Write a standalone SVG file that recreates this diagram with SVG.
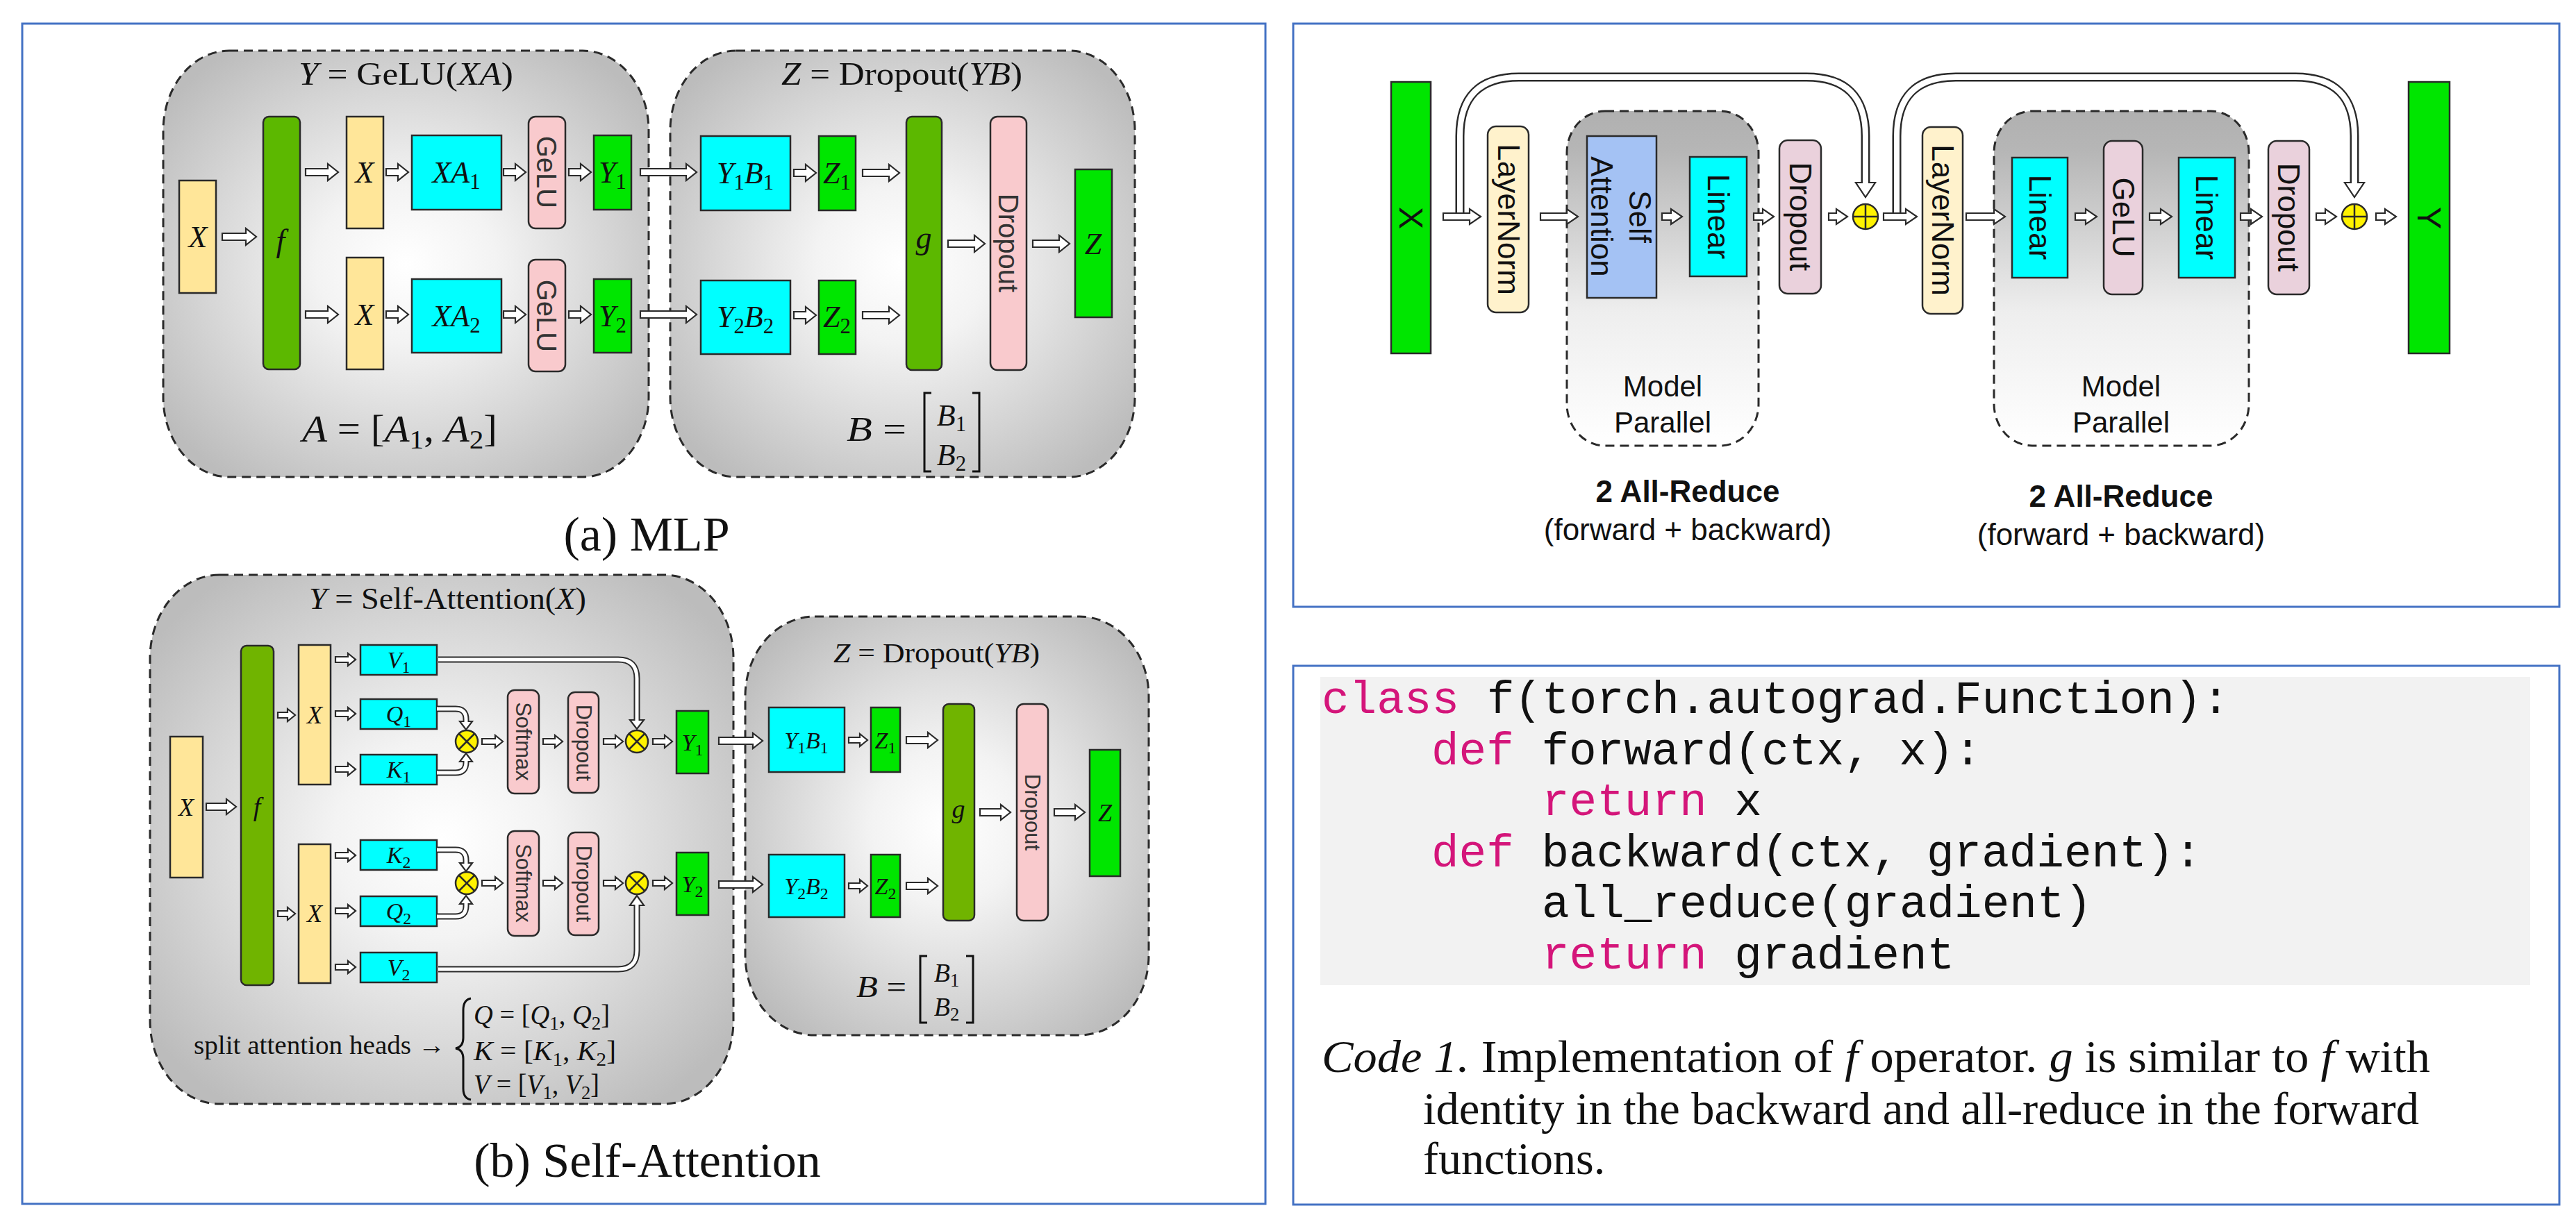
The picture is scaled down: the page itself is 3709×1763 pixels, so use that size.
<svg xmlns="http://www.w3.org/2000/svg" width="3709" height="1763" viewBox="0 0 3709 1763">
<defs>
<radialGradient id="rg" cx="0.5" cy="0.5" r="0.62">
<stop offset="0" stop-color="#ffffff"/>
<stop offset="0.3" stop-color="#f3f3f3"/>
<stop offset="1" stop-color="#bcbcbc"/>
</radialGradient>
<linearGradient id="lg" x1="0" y1="0" x2="0" y2="1">
<stop offset="0" stop-color="#b0b0b0"/>
<stop offset="0.12" stop-color="#b6b6b6"/>
<stop offset="0.6" stop-color="#eeeeee"/>
<stop offset="1" stop-color="#ffffff"/>
</linearGradient>
<style>
.panel{fill:none;stroke:#4472C4;stroke-width:3}
.ctr{stroke:#2a2a2a;stroke-width:3;stroke-dasharray:13 8}
.rg{fill:url(#rg)}
.lg{fill:url(#lg)}
.n{stroke:#2a2a2a;stroke-width:2.5}
.yel{fill:#FFE699}
.dg{fill:#5CB800}
.dg2{fill:#70B400}
.cy{fill:#00FFFF}
.gr{fill:#00E600}
.pk{fill:#F9CACD}
.ln{fill:#FFF2CC}
.mv{fill:#EAD1DC}
.bl{fill:#A4C2F4}
.op{fill:#FFF200;stroke:#2a2a2a;stroke-width:2.5}
.opl{fill:none;stroke:#2a2a2a;stroke-width:2.5}
.ar{fill:#fff;stroke:#2a2a2a;stroke-width:2.2;stroke-linejoin:miter}
.bd{fill:none;stroke:#2a2a2a;stroke-width:9}
.bw{fill:none;stroke:#fff;stroke-width:5}
.bd2{fill:none;stroke:#2a2a2a;stroke-width:13}
.bw2{fill:none;stroke:#fff;stroke-width:8}
.m{font-family:"Liberation Serif",serif;font-style:italic;fill:#111;text-anchor:middle}
.r{font-family:"Liberation Serif",serif;fill:#111}
.i{font-style:italic}
.u{font-style:normal;font-size:70%}
.sr{font-family:"Liberation Sans",sans-serif;fill:#333;text-anchor:middle;dominant-baseline:central}
.sk{font-family:"Liberation Sans",sans-serif;fill:#111;text-anchor:middle}
.code{font-family:"Liberation Mono",monospace;font-size:66px;fill:#111}
.kw{fill:#D4157A}
.cap{font-family:"Liberation Serif",serif;font-size:66px;fill:#111}
.dl{fill:none;stroke:#111;stroke-width:3}
</style>
</defs>
<rect width="3709" height="1763" fill="#fff"/>
<g id="panels">
<rect class="panel" x="32" y="34" width="1790" height="1700"/>
<rect class="panel" x="1862" y="34" width="1823" height="840"/>
<rect class="panel" x="1862" y="959" width="1823" height="776"/>
</g>

<!-- (a) MLP containers -->
<g id="mlp-gelu-block">
<rect class="ctr rg" x="235" y="73" width="699" height="614" rx="95" ry="115"/>
<text class="r" x="430" y="122" font-size="46" textLength="309" lengthAdjust="spacingAndGlyphs"><tspan class="i">Y</tspan> = GeLU(<tspan class="i">XA</tspan>)</text>
<text class="r" x="435" y="636" font-size="54" textLength="281" lengthAdjust="spacingAndGlyphs"><tspan class="i">A</tspan> = [<tspan class="i">A</tspan><tspan class="u" dy="10">1</tspan><tspan dy="-10">, </tspan><tspan class="i">A</tspan><tspan class="u" dy="10">2</tspan><tspan dy="-10">]</tspan></text>
</g>
<g id="mlp-dropout-block">
<rect class="ctr rg" x="965" y="73" width="669" height="614" rx="95" ry="115"/>
<text class="r" x="1125" y="122" font-size="46" textLength="347" lengthAdjust="spacingAndGlyphs"><tspan class="i">Z</tspan> = Dropout(<tspan class="i">YB</tspan>)</text>
<text class="r" x="1219" y="635" font-size="50" textLength="86" lengthAdjust="spacingAndGlyphs"><tspan class="i">B</tspan> =</text>
<path class="dl" d="M1341 566 H1331 V679 H1341 M1400 566 H1410 V679 H1400"/>
<text class="m" x="1370" y="613" font-size="44">B<tspan class="u" dy="8">1</tspan></text>
<text class="m" x="1370" y="670" font-size="44">B<tspan class="u" dy="8">2</tspan></text>
</g>
<text id="caption-a" class="r" x="931" y="793" font-size="70" text-anchor="middle">(a) MLP</text>

<!-- MLP nodes -->
<g id="mlp-x"><rect class="n yel" x="258" y="260" width="53" height="162"/><text class="m" x="285" y="356" font-size="44">X</text></g>
<g id="mlp-f"><rect class="n dg" x="379" y="168" width="53" height="364" rx="8"/><text class="m" x="404" y="362" font-size="46">f</text></g>
<g id="mlp-x1"><rect class="n yel" x="499" y="168" width="53" height="161"/><text class="m" x="525" y="263" font-size="44">X</text></g>
<g id="mlp-x2"><rect class="n yel" x="499" y="371" width="53" height="161"/><text class="m" x="525" y="468" font-size="44">X</text></g>
<g id="mlp-xa1"><rect class="n cy" x="593" y="195" width="129" height="107"/><text class="m" x="657" y="263" font-size="44">XA<tspan class="u" dy="9">1</tspan></text></g>
<g id="mlp-xa2"><rect class="n cy" x="593" y="402" width="129" height="106"/><text class="m" x="657" y="470" font-size="44">XA<tspan class="u" dy="9">2</tspan></text></g>
<g id="mlp-gelu1"><rect class="n pk" x="761" y="168" width="53" height="161" rx="10"/><text class="sr" font-size="40" transform="translate(787,248) rotate(90)">GeLU</text></g>
<g id="mlp-gelu2"><rect class="n pk" x="761" y="374" width="53" height="161" rx="10"/><text class="sr" font-size="40" transform="translate(787,455) rotate(90)">GeLU</text></g>
<g id="mlp-y1"><rect class="n gr" x="855" y="195" width="54" height="107"/><text class="m" x="882" y="263" font-size="44">Y<tspan class="u" dy="9">1</tspan></text></g>
<g id="mlp-y2"><rect class="n gr" x="855" y="402" width="54" height="106"/><text class="m" x="882" y="470" font-size="44">Y<tspan class="u" dy="9">2</tspan></text></g>
<g id="mlp-y1b1"><rect class="n cy" x="1009" y="196" width="129" height="107"/><text class="m" x="1073" y="264" font-size="44">Y<tspan class="u" dy="9">1</tspan><tspan dy="-9">B</tspan><tspan class="u" dy="9">1</tspan></text></g>
<g id="mlp-y2b2"><rect class="n cy" x="1009" y="404" width="129" height="106"/><text class="m" x="1073" y="471" font-size="44">Y<tspan class="u" dy="9">2</tspan><tspan dy="-9">B</tspan><tspan class="u" dy="9">2</tspan></text></g>
<g id="mlp-z1"><rect class="n gr" x="1179" y="196" width="53" height="107"/><text class="m" x="1205" y="264" font-size="44">Z<tspan class="u" dy="9">1</tspan></text></g>
<g id="mlp-z2"><rect class="n gr" x="1179" y="404" width="53" height="106"/><text class="m" x="1205" y="471" font-size="44">Z<tspan class="u" dy="9">2</tspan></text></g>
<g id="mlp-g"><rect class="n dg" x="1305" y="168" width="51" height="365" rx="8"/><text class="m" x="1330" y="358" font-size="46">g</text></g>
<g id="mlp-dropout"><rect class="n pk" x="1426" y="168" width="52" height="365" rx="10"/><text class="sr" font-size="40" transform="translate(1452,350) rotate(90)">Dropout</text></g>
<g id="mlp-z"><rect class="n gr" x="1548" y="244" width="53" height="213"/><text class="m" x="1574" y="366" font-size="44">Z</text></g>

<!-- (b) Self-attention containers -->
<g id="sa-attention-block">
<rect class="ctr rg" x="216" y="828" width="840" height="762" rx="100" ry="120"/>
<text class="r" x="445" y="877" font-size="44" textLength="399" lengthAdjust="spacingAndGlyphs"><tspan class="i">Y</tspan> = Self-Attention(<tspan class="i">X</tspan>)</text>
<text class="r" x="279" y="1518" font-size="38" textLength="362" lengthAdjust="spacingAndGlyphs">split attention heads →</text>
<path class="dl" d="M678 1438 Q667 1440 667 1455 V1495 Q667 1508 656 1510 Q667 1512 667 1525 V1568 Q667 1582 678 1584"/>
<text class="r" x="682" y="1475" font-size="40" textLength="196" lengthAdjust="spacingAndGlyphs"><tspan class="i">Q</tspan> = [<tspan class="i">Q</tspan><tspan class="u" dy="8">1</tspan><tspan dy="-8">, </tspan><tspan class="i">Q</tspan><tspan class="u" dy="8">2</tspan><tspan dy="-8">]</tspan></text>
<text class="r" x="682" y="1527" font-size="40" textLength="205" lengthAdjust="spacingAndGlyphs"><tspan class="i">K</tspan> = [<tspan class="i">K</tspan><tspan class="u" dy="8">1</tspan><tspan dy="-8">, </tspan><tspan class="i">K</tspan><tspan class="u" dy="8">2</tspan><tspan dy="-8">]</tspan></text>
<text class="r" x="682" y="1575" font-size="40" textLength="181" lengthAdjust="spacingAndGlyphs"><tspan class="i">V</tspan> = [<tspan class="i">V</tspan><tspan class="u" dy="8">1</tspan><tspan dy="-8">, </tspan><tspan class="i">V</tspan><tspan class="u" dy="8">2</tspan><tspan dy="-8">]</tspan></text>
</g>
<g id="sa-dropout-block">
<rect class="ctr rg" x="1073" y="888" width="581" height="603" rx="100" ry="115"/>
<text class="r" x="1200" y="954" font-size="40" textLength="297" lengthAdjust="spacingAndGlyphs"><tspan class="i">Z</tspan> = Dropout(<tspan class="i">YB</tspan>)</text>
<text class="r" x="1233" y="1436" font-size="44" textLength="72" lengthAdjust="spacingAndGlyphs"><tspan class="i">B</tspan> =</text>
<path class="dl" d="M1335 1377 H1325 V1473 H1335 M1391 1377 H1401 V1473 H1391"/>
<text class="m" x="1363" y="1414" font-size="38">B<tspan class="u" dy="7">1</tspan></text>
<text class="m" x="1363" y="1463" font-size="38">B<tspan class="u" dy="7">2</tspan></text>
</g>
<text id="caption-b" class="r" x="932" y="1695" font-size="70" text-anchor="middle">(b) Self-Attention</text>

<!-- SA nodes -->
<g id="sa-x"><rect class="n yel" x="245" y="1061" width="47" height="203"/><text class="m" x="268" y="1175" font-size="36">X</text></g>
<g id="sa-f"><rect class="n dg2" x="347" y="930" width="47" height="489" rx="8"/><text class="m" x="370" y="1175" font-size="38">f</text></g>
<g id="sa-x1"><rect class="n yel" x="430" y="929" width="46" height="201"/><text class="m" x="453" y="1042" font-size="36">X</text></g>
<g id="sa-x2"><rect class="n yel" x="430" y="1216" width="46" height="200"/><text class="m" x="453" y="1328" font-size="36">X</text></g>
<g id="sa-v1"><rect class="n cy" x="519" y="929" width="110" height="43"/><text class="m" x="574" y="962" font-size="34">V<tspan class="u" dy="7">1</tspan></text></g>
<g id="sa-q1"><rect class="n cy" x="519" y="1007" width="110" height="43"/><text class="m" x="574" y="1040" font-size="34">Q<tspan class="u" dy="7">1</tspan></text></g>
<g id="sa-k1"><rect class="n cy" x="519" y="1087" width="110" height="43"/><text class="m" x="574" y="1120" font-size="34">K<tspan class="u" dy="7">1</tspan></text></g>
<g id="sa-k2"><rect class="n cy" x="519" y="1210" width="110" height="43"/><text class="m" x="574" y="1243" font-size="34">K<tspan class="u" dy="7">2</tspan></text></g>
<g id="sa-q2"><rect class="n cy" x="519" y="1291" width="110" height="43"/><text class="m" x="574" y="1324" font-size="34">Q<tspan class="u" dy="7">2</tspan></text></g>
<g id="sa-v2"><rect class="n cy" x="519" y="1372" width="110" height="43"/><text class="m" x="574" y="1405" font-size="34">V<tspan class="u" dy="7">2</tspan></text></g>
<g id="sa-mul-qk1"><circle class="op" cx="672" cy="1068" r="16"/><path class="opl" d="M661 1057 L683 1079 M683 1057 L661 1079"/></g>
<g id="sa-mul-qk2"><circle class="op" cx="672" cy="1272" r="16"/><path class="opl" d="M661 1261 L683 1283 M683 1261 L661 1283"/></g>
<g id="sa-softmax1"><rect class="n pk" x="731" y="994" width="45" height="149" rx="10"/><text class="sr" font-size="31" transform="translate(753,1068) rotate(90)">Softmax</text></g>
<g id="sa-softmax2"><rect class="n pk" x="731" y="1197" width="45" height="151" rx="10"/><text class="sr" font-size="31" transform="translate(753,1272) rotate(90)">Softmax</text></g>
<g id="sa-dropout1"><rect class="n pk" x="818" y="997" width="44" height="145" rx="10"/><text class="sr" font-size="31" transform="translate(840,1070) rotate(90)">Dropout</text></g>
<g id="sa-dropout2"><rect class="n pk" x="818" y="1199" width="44" height="148" rx="10"/><text class="sr" font-size="31" transform="translate(840,1273) rotate(90)">Dropout</text></g>
<g id="sa-mul-v1"><circle class="op" cx="917" cy="1068" r="16"/><path class="opl" d="M906 1057 L928 1079 M928 1057 L906 1079"/></g>
<g id="sa-mul-v2"><circle class="op" cx="917" cy="1272" r="16"/><path class="opl" d="M906 1261 L928 1283 M928 1261 L906 1283"/></g>
<g id="sa-y1"><rect class="n gr" x="974" y="1024" width="46" height="90"/><text class="m" x="997" y="1081" font-size="34">Y<tspan class="u" dy="7">1</tspan></text></g>
<g id="sa-y2"><rect class="n gr" x="974" y="1228" width="46" height="90"/><text class="m" x="997" y="1285" font-size="34">Y<tspan class="u" dy="7">2</tspan></text></g>
<g id="sa-y1b1"><rect class="n cy" x="1107" y="1019" width="109" height="93"/><text class="m" x="1161" y="1078" font-size="34">Y<tspan class="u" dy="7">1</tspan><tspan dy="-7">B</tspan><tspan class="u" dy="7">1</tspan></text></g>
<g id="sa-y2b2"><rect class="n cy" x="1107" y="1231" width="109" height="90"/><text class="m" x="1161" y="1288" font-size="34">Y<tspan class="u" dy="7">2</tspan><tspan dy="-7">B</tspan><tspan class="u" dy="7">2</tspan></text></g>
<g id="sa-z1"><rect class="n gr" x="1254" y="1019" width="42" height="93"/><text class="m" x="1275" y="1078" font-size="34">Z<tspan class="u" dy="7">1</tspan></text></g>
<g id="sa-z2"><rect class="n gr" x="1254" y="1231" width="42" height="90"/><text class="m" x="1275" y="1288" font-size="34">Z<tspan class="u" dy="7">2</tspan></text></g>
<g id="sa-g"><rect class="n dg2" x="1358" y="1014" width="45" height="312" rx="8"/><text class="m" x="1380" y="1178" font-size="38">g</text></g>
<g id="sa-dropout"><rect class="n pk" x="1464" y="1014" width="45" height="312" rx="10"/><text class="sr" font-size="31" transform="translate(1486,1170) rotate(90)">Dropout</text></g>
<g id="sa-z"><rect class="n gr" x="1569" y="1080" width="44" height="182"/><text class="m" x="1591" y="1183" font-size="36">Z</text></g>

<!-- Transformer layer (top right) -->
<g id="tl-mp1">
<rect class="ctr lg" x="2256" y="160" width="276" height="482" rx="55" ry="60"/>
<text class="sk" x="2394" y="571" font-size="42">Model</text>
<text class="sk" x="2394" y="623" font-size="42">Parallel</text>
</g>
<g id="tl-mp2">
<rect class="ctr lg" x="2871" y="160" width="367" height="482" rx="55" ry="60"/>
<text class="sk" x="3054" y="571" font-size="42">Model</text>
<text class="sk" x="3054" y="623" font-size="42">Parallel</text>
</g>
<g id="tl-x"><rect class="n gr" x="2003" y="118" width="57" height="391"/><text class="sr" style="fill:#111" font-size="48" transform="translate(2031,314) rotate(90)">X</text></g>
<g id="tl-ln1"><rect class="n ln" x="2142" y="182" width="59" height="268" rx="12"/><text class="sr" style="fill:#111" font-size="44" transform="translate(2172,316) rotate(90)">LayerNorm</text></g>
<g id="tl-sa"><rect class="n bl" x="2285" y="196" width="100" height="233"/><text class="sr" style="fill:#111" font-size="44" transform="translate(2361,312) rotate(90)">Self</text><text class="sr" style="fill:#111" font-size="44" transform="translate(2306,312) rotate(90)">Attention</text></g>
<g id="tl-linear1"><rect class="n cy" x="2433" y="226" width="82" height="172"/><text class="sr" style="fill:#111" font-size="44" transform="translate(2474,312) rotate(90)">Linear</text></g>
<g id="tl-dropout1"><rect class="n mv" x="2562" y="202" width="60" height="221" rx="12"/><text class="sr" style="fill:#111" font-size="44" transform="translate(2592,312) rotate(90)">Dropout</text></g>
<g id="tl-add1"><circle class="op" cx="2686" cy="312" r="18"/><path class="opl" d="M2668 312 H2704 M2686 294 V330"/></g>
<g id="tl-ln2"><rect class="n ln" x="2768" y="183" width="58" height="269" rx="12"/><text class="sr" style="fill:#111" font-size="44" transform="translate(2797,317) rotate(90)">LayerNorm</text></g>
<g id="tl-linear2"><rect class="n cy" x="2897" y="227" width="80" height="173"/><text class="sr" style="fill:#111" font-size="44" transform="translate(2937,313) rotate(90)">Linear</text></g>
<g id="tl-gelu"><rect class="n mv" x="3029" y="203" width="56" height="221" rx="12"/><text class="sr" style="fill:#111" font-size="44" transform="translate(3057,313) rotate(90)">GeLU</text></g>
<g id="tl-linear3"><rect class="n cy" x="3137" y="227" width="81" height="173"/><text class="sr" style="fill:#111" font-size="44" transform="translate(3177,313) rotate(90)">Linear</text></g>
<g id="tl-dropout2"><rect class="n mv" x="3266" y="203" width="59" height="221" rx="12"/><text class="sr" style="fill:#111" font-size="44" transform="translate(3295,313) rotate(90)">Dropout</text></g>
<g id="tl-add2"><circle class="op" cx="3390" cy="312" r="18"/><path class="opl" d="M3372 312 H3408 M3390 294 V330"/></g>
<g id="tl-y"><rect class="n gr" x="3468" y="118" width="59" height="391"/><text class="sr" style="fill:#111" font-size="48" transform="translate(3497,314) rotate(90)">Y</text></g>
<g id="tl-notes">
<text class="sk" x="2430" y="723" font-size="44" font-weight="bold">2 All-Reduce</text>
<text class="sk" x="2430" y="778" font-size="44">(forward + backward)</text>
<text class="sk" x="3054" y="730" font-size="44" font-weight="bold">2 All-Reduce</text>
<text class="sk" x="3054" y="785" font-size="44">(forward + backward)</text>
</g>

<!-- Code -->
<g id="code">
<rect x="1901" y="975" width="1742" height="444" fill="#F2F2F2"/>
<text class="code" x="1903" y="1027"><tspan class="kw">class</tspan> f(torch.autograd.Function):</text>
<text class="code" x="2061" y="1101"><tspan class="kw">def</tspan> forward(ctx, x):</text>
<text class="code" x="2220" y="1174"><tspan class="kw">return</tspan> x</text>
<text class="code" x="2061" y="1248"><tspan class="kw">def</tspan> backward(ctx, gradient):</text>
<text class="code" x="2220" y="1321">all_reduce(gradient)</text>
<text class="code" x="2220" y="1395"><tspan class="kw">return</tspan> gradient</text>
</g>
<g id="code-caption">
<text class="cap" x="1903" y="1544" textLength="1596" lengthAdjust="spacingAndGlyphs"><tspan class="i">Code 1.</tspan> Implementation of <tspan class="i">f</tspan> operator. <tspan class="i">g</tspan> is similar to <tspan class="i">f</tspan> with</text>
<text class="cap" x="2049" y="1619" textLength="1434" lengthAdjust="spacingAndGlyphs">identity in the backward and all-reduce in the forward</text>
<text class="cap" x="2049" y="1691">functions.</text>
</g>

<!-- Connectors -->
<g id="connectors">
<!-- MLP -->
<polygon class="ar" points="320,336 354,336 354,329 369,341 354,353 354,346 320,346"/>
<polygon class="ar" points="440,243 472,243 472,236 487,248 472,260 472,253 440,253"/>
<polygon class="ar" points="440,448 472,448 472,441 487,453 472,465 472,458 440,458"/>
<polygon class="ar" points="556,243 573,243 573,236 588,248 573,260 573,253 556,253"/>
<polygon class="ar" points="556,448 573,448 573,441 588,453 573,465 573,458 556,458"/>
<polygon class="ar" points="725,243 742,243 742,236 757,248 742,260 742,253 725,253"/>
<polygon class="ar" points="725,448 742,448 742,441 757,453 742,465 742,458 725,458"/>
<polygon class="ar" points="819,243 836,243 836,236 851,248 836,260 836,253 819,253"/>
<polygon class="ar" points="819,448 836,448 836,441 851,453 836,465 836,458 819,458"/>
<polygon class="ar" points="922,243 988,243 988,236 1003,248 988,260 988,253 922,253"/>
<polygon class="ar" points="922,448 988,448 988,441 1003,453 988,465 988,458 922,458"/>
<polygon class="ar" points="1143,244 1160,244 1160,237 1175,249 1160,261 1160,254 1143,254"/>
<polygon class="ar" points="1143,449 1160,449 1160,442 1175,454 1160,466 1160,459 1143,459"/>
<polygon class="ar" points="1242,244 1280,244 1280,237 1295,249 1280,261 1280,254 1242,254"/>
<polygon class="ar" points="1242,449 1280,449 1280,442 1295,454 1280,466 1280,459 1242,459"/>
<polygon class="ar" points="1365,346 1403,346 1403,339 1418,351 1403,363 1403,356 1365,356"/>
<polygon class="ar" points="1487,346 1525,346 1525,339 1540,351 1525,363 1525,356 1487,356"/>
<!-- Self-attention -->
<polygon class="ar" points="297,1157 326,1157 326,1151 340,1162 326,1173 326,1167 297,1167"/>
<polygon class="ar" points="400,1026 414,1026 414,1021 425,1030 414,1039 414,1034 400,1034"/>
<polygon class="ar" points="400,1312 414,1312 414,1307 425,1316 414,1325 414,1320 400,1320"/>
<polygon class="ar" points="483,946 501,946 501,941 512,950 501,959 501,954 483,954"/>
<polygon class="ar" points="483,1024 501,1024 501,1019 512,1028 501,1037 501,1032 483,1032"/>
<polygon class="ar" points="483,1104 501,1104 501,1099 512,1108 501,1117 501,1112 483,1112"/>
<polygon class="ar" points="483,1228 501,1228 501,1223 512,1232 501,1241 501,1236 483,1236"/>
<polygon class="ar" points="483,1308 501,1308 501,1303 512,1312 501,1321 501,1316 483,1316"/>
<polygon class="ar" points="483,1389 501,1389 501,1384 512,1393 501,1402 501,1397 483,1397"/>
<polygon class="ar" points="694,1064 713,1064 713,1059 724,1068 713,1077 713,1072 694,1072"/>
<polygon class="ar" points="782,1064 799,1064 799,1059 810,1068 799,1077 799,1072 782,1072"/>
<polygon class="ar" points="869,1064 886,1064 886,1059 897,1068 886,1077 886,1072 869,1072"/>
<polygon class="ar" points="940,1064 957,1064 957,1059 968,1068 957,1077 957,1072 940,1072"/>
<polygon class="ar" points="694,1268 713,1268 713,1263 724,1272 713,1281 713,1276 694,1276"/>
<polygon class="ar" points="782,1268 799,1268 799,1263 810,1272 799,1281 799,1276 782,1276"/>
<polygon class="ar" points="869,1268 886,1268 886,1263 897,1272 886,1281 886,1276 869,1276"/>
<polygon class="ar" points="940,1268 957,1268 957,1263 968,1272 957,1281 957,1276 940,1276"/>
<polygon class="ar" points="1035,1062 1084,1062 1084,1056 1098,1067 1084,1078 1084,1072 1035,1072"/>
<polygon class="ar" points="1035,1269 1084,1269 1084,1263 1098,1274 1084,1285 1084,1279 1035,1279"/>
<polygon class="ar" points="1222,1062 1238,1062 1238,1057 1249,1066 1238,1075 1238,1070 1222,1070"/>
<polygon class="ar" points="1222,1272 1238,1272 1238,1267 1249,1276 1238,1285 1238,1280 1222,1280"/>
<polygon class="ar" points="1305,1061 1336,1061 1336,1055 1350,1066 1336,1077 1336,1071 1305,1071"/>
<polygon class="ar" points="1305,1271 1336,1271 1336,1265 1350,1276 1336,1287 1336,1281 1305,1281"/>
<polygon class="ar" points="1411,1165 1441,1165 1441,1159 1455,1170 1441,1181 1441,1175 1411,1175"/>
<polygon class="ar" points="1518,1165 1548,1165 1548,1159 1562,1170 1548,1181 1548,1175 1518,1175"/>
<!-- curved hollow SA bands -->
<path class="bd" d="M629 1021 H656 Q671 1021 671 1036 V1040"/>
<polygon class="ar" points="662,1039 680,1039 671,1051"/>
<path class="bw" d="M629 1021 H656 Q671 1021 671 1036 V1042"/>
<path class="bd" d="M629 1113 H656 Q671 1113 671 1098 V1097"/>
<polygon class="ar" points="662,1097 680,1097 671,1085"/>
<path class="bw" d="M629 1113 H656 Q671 1113 671 1098 V1095"/>
<path class="bd" d="M629 1224 H656 Q671 1224 671 1239 V1244"/>
<polygon class="ar" points="662,1243 680,1243 671,1255"/>
<path class="bw" d="M629 1224 H656 Q671 1224 671 1239 V1246"/>
<path class="bd" d="M629 1320 H656 Q671 1320 671 1305 V1302"/>
<polygon class="ar" points="662,1302 680,1302 671,1290"/>
<path class="bw" d="M629 1320 H656 Q671 1320 671 1305 V1300"/>
<path class="bd" d="M631 950 H890 Q917 950 917 977 V1038"/>
<polygon class="ar" points="907,1037 927,1037 917,1050"/>
<path class="bw" d="M631 950 H890 Q917 950 917 977 V1040"/>
<path class="bd" d="M631 1396 H890 Q917 1396 917 1369 V1304"/>
<polygon class="ar" points="907,1304 927,1304 917,1290"/>
<path class="bw" d="M631 1396 H890 Q917 1396 917 1369 V1302"/>
<!-- Transformer layer residual bands -->
<path class="bd2" d="M2102 307 V196 Q2102 111 2187 111 H2601 Q2686 111 2686 196 V264"/>
<polygon class="ar" points="2672,263 2700,263 2686,284"/>
<path class="bw2" d="M2102 309 V196 Q2102 111 2187 111 H2601 Q2686 111 2686 196 V266"/>
<path class="bd2" d="M2731 307 V196 Q2731 111 2816 111 H3305 Q3390 111 3390 196 V264"/>
<polygon class="ar" points="3376,263 3404,263 3390,284"/>
<path class="bw2" d="M2731 309 V196 Q2731 111 2816 111 H3305 Q3390 111 3390 196 V266"/>
<!-- Transformer layer arrows -->
<polygon class="ar" points="2078,307 2116,307 2116,301 2132,312 2116,323 2116,317 2078,317"/>
<polygon class="ar" points="2218,307 2256,307 2256,301 2272,312 2256,323 2256,317 2218,317"/>
<polygon class="ar" points="2393,307 2406,307 2406,301 2422,312 2406,323 2406,317 2393,317"/>
<polygon class="ar" points="2525,307 2538,307 2538,301 2554,312 2538,323 2538,317 2525,317"/>
<polygon class="ar" points="2633,307 2644,307 2644,301 2660,312 2644,323 2644,317 2633,317"/>
<polygon class="ar" points="2712,307 2744,307 2744,301 2760,312 2744,323 2744,317 2712,317"/>
<polygon class="ar" points="2831,307 2871,307 2871,301 2887,312 2871,323 2871,317 2831,317"/>
<polygon class="ar" points="2988,307 3003,307 3003,301 3019,312 3003,323 3003,317 2988,317"/>
<polygon class="ar" points="3095,307 3111,307 3111,301 3127,312 3111,323 3111,317 3095,317"/>
<polygon class="ar" points="3226,307 3241,307 3241,301 3257,312 3241,323 3241,317 3226,317"/>
<polygon class="ar" points="3335,307 3348,307 3348,301 3364,312 3348,323 3348,317 3335,317"/>
<polygon class="ar" points="3421,307 3434,307 3434,301 3450,312 3434,323 3434,317 3421,317"/>
</g>
</svg>
